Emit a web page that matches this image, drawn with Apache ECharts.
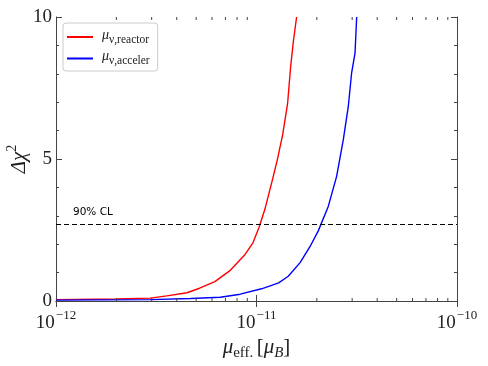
<!DOCTYPE html>
<html><head><meta charset="utf-8">
<script src="https://cdn.jsdelivr.net/npm/echarts@6/dist/echarts.min.js"></script>
<style>html,body{margin:0;padding:0;background:#fff}#c{width:488px;height:366px}</style>
</head><body><div id="c"></div>
<script>
// ---- data ----
var reactorX = [1.0e-12, 2.0e-12, 2.95e-12, 3.57e-12, 4.5e-12, 5.2e-12, 6.2e-12, 7.4e-12, 8.7e-12, 9.6e-12, 1.03e-11, 1.10e-11, 1.19e-11, 1.27e-11, 1.35e-11, 1.43e-11, 1.48e-11, 1.53e-11, 1.585e-11];
var reactorY = [0.05, 0.07, 0.10, 0.18, 0.29, 0.45, 0.68, 1.08, 1.61, 2.05, 2.60, 3.22, 4.16, 4.97, 5.85, 6.97, 8.25, 9.19, 10.0];
var accelX = [1.0e-12, 2.95e-12, 4.7e-12, 6.6e-12, 8.3e-12, 1.06e-11, 1.29e-11, 1.44e-11, 1.65e-11, 1.85e-11, 2.03e-11, 2.28e-11, 2.51e-11, 2.71e-11, 2.87e-11, 2.98e-11, 3.1e-11, 3.16e-11];
var accelY = [0.03, 0.05, 0.09, 0.13, 0.24, 0.43, 0.64, 0.87, 1.35, 1.92, 2.46, 3.33, 4.39, 5.68, 6.85, 8.02, 8.73, 10.0];
var clLevel = 2.71;
var clLabel = '90% CL';
var xMajorTicks = [1e-12, 1e-11, 1e-10];
var xMajorExp = ['−12', '−11', '−10'];
var xMinorTicks = [2e-12, 3e-12, 4e-12, 5e-12, 6e-12, 7e-12, 8e-12, 9e-12, 2e-11, 3e-11, 4e-11, 5e-11, 6e-11, 7e-11, 8e-11, 9e-11];
var yTicks = [0, 5, 10];

function zip(a, b) { return a.map(function (v, i) { return [v, b[i]]; }); }

var serif = 'Liberation Serif';
var frame = '#444';

var chart = echarts.init(document.getElementById('c'), null, {renderer: 'canvas'});
var xCommon = {
  type: 'log', logBase: 10, min: 1e-12, max: 1e-10,
  axisLine: {show: true, lineStyle: {color: frame, width: 1}},
  axisTick: {show: true, inside: true, length: 6, lineStyle: {color: frame}},
  minorTick: {show: false},
  splitLine: {show: false}
};
var yCommon = {
  type: 'value', min: 0, max: 10, interval: 5,
  axisLine: {show: true, lineStyle: {color: frame, width: 1}},
  axisTick: {show: true, inside: true, length: 6, lineStyle: {color: frame}},
  minorTick: {show: true, splitNumber: 5, length: 3, lineStyle: {color: frame}},
  splitLine: {show: false}
};

var option = {
  animation: false,
  backgroundColor: '#fff',
  grid: {left: 56, right: 31, top: 17, bottom: 65, containLabel: false, outerBoundsMode: 'none'},
  xAxis: [
    Object.assign({}, xCommon, {
      position: 'bottom',
      axisLabel: {
        show: true, margin: 5, hideOverlap: false,
        formatter: function (v) {
          var i = xMajorTicks.findIndex(function (t) { return Math.abs(Math.log10(t) - Math.log10(v)) < 1e-6; });
          if (i < 0) return '';
          return '{b|10}{s|' + xMajorExp[i] + '}';
        },
        rich: {
          b: {fontFamily: serif, fontSize: 19, color: '#222', padding: [8, 0, 0, 0]},
          s: {fontFamily: serif, fontSize: 13, color: '#222', padding: [0, 0, 8, 1]}
        }
      },
      name: '{m|μ}{sub|eff.} {n|[}{m|μ}{subi|B}{n|]}',
      nameLocation: 'middle', nameGap: 36, nameMoveOverlap: false,
      nameTextStyle: {
        rich: {
          m: {fontFamily: serif, fontStyle: 'italic', fontSize: 21, color: '#222', padding: [0, 0, 6, 0]},
          n: {fontFamily: serif, fontSize: 21, color: '#222', padding: [0, 0, 6, 0]},
          sub: {fontFamily: serif, fontSize: 15, color: '#222', padding: [6, 0, 0, 0]},
          subi: {fontFamily: serif, fontStyle: 'italic', fontSize: 15, color: '#222', padding: [6, 0, 0, 0]}
        }
      }
    }),
    Object.assign({}, xCommon, {position: 'top', axisLabel: {show: false}})
  ],
  yAxis: [
    Object.assign({}, yCommon, {
      position: 'left',
      axisLabel: {show: true, margin: 4, fontFamily: serif, fontSize: 19, color: '#222'},
      name: '{d|Δχ}{p|2}',
      nameLocation: 'middle', nameGap: 26, nameRotate: 90, nameMoveOverlap: false,
      nameTextStyle: {
        rich: {
          d: {fontFamily: serif, fontStyle: 'italic', fontSize: 21, color: '#222', padding: [6, 0, 0, 0]},
          p: {fontFamily: serif, fontSize: 14, color: '#222', padding: [0, 0, 8, 0]}
        }
      }
    }),
    Object.assign({}, yCommon, {position: 'right', axisLabel: {show: false}})
  ],
  legend: {
    data: ['reactor', 'acceler'],
    orient: 'vertical', left: 63, top: 23,
    backgroundColor: '#fff',
    borderColor: '#ccc', borderWidth: 1, borderRadius: 3,
    padding: [5, 8, 4, 4],
    itemGap: 4,
    itemWidth: 26, itemHeight: 2,
    icon: 'rect',
    formatter: function (name) { return '{m|μ}{s|ν,' + name + '}'; },
    textStyle: {
      rich: {
        m: {fontFamily: serif, fontStyle: 'italic', fontSize: 14, color: '#222', padding: [0, 0, 4, 4]},
        s: {fontFamily: serif, fontSize: 11.5, color: '#222', padding: [5, 0, 0, 0]}
      }
    }
  },
  series: [
    {
      name: 'reactor', type: 'line', data: zip(reactorX, reactorY),
      showSymbol: false, symbol: 'none', smooth: false,
      lineStyle: {color: '#ff0000', width: 1.4}, itemStyle: {color: '#ff0000'},
      clip: true, z: 3,
      markLine: {
        silent: true, symbol: 'none',
        lineStyle: {color: '#000', type: [5, 3], width: 1.2},
        label: {show: true, position: 'insideStartTop', formatter: clLabel, fontFamily: 'DejaVu Sans', fontSize: 10.5, color: '#000', distance: [17, 6]},
        data: [{yAxis: clLevel}]
      }
    },
    {
      name: 'acceler', type: 'line', data: zip(accelX, accelY),
      showSymbol: false, symbol: 'none', smooth: false,
      lineStyle: {color: '#0000ff', width: 1.4}, itemStyle: {color: '#0000ff'},
      clip: true, z: 3
    },
    {
      name: 'minorTicks', type: 'custom', silent: true, z: 4, clip: false,
      data: xMinorTicks.map(function (v) { return [v, 0]; }),
      renderItem: function (params, api) {
        var v = api.value(0);
        var b = api.coord([v, 0]);
        var t = api.coord([v, 10]);
        var st = {stroke: frame, lineWidth: 1};
        return {type: 'group', children: [
          {type: 'line', shape: {x1: b[0], y1: b[1], x2: b[0], y2: b[1] - 3}, style: st},
          {type: 'line', shape: {x1: t[0], y1: t[1], x2: t[0], y2: t[1] + 3}, style: st}
        ]};
      }
    }
  ]
};
chart.setOption(option);
</script>
</body></html>
